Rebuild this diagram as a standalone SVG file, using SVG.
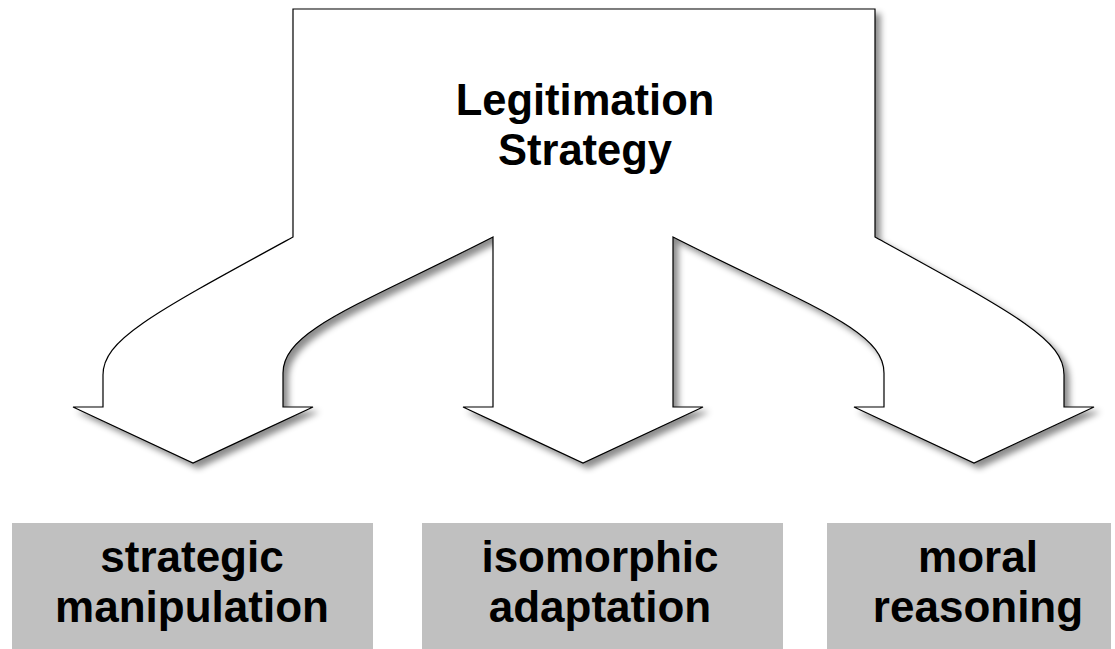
<svg xmlns="http://www.w3.org/2000/svg" width="1115" height="649" viewBox="0 0 1115 649">
  <defs>
    <filter id="shadow" x="-10%" y="-10%" width="130%" height="130%">
      <feDropShadow dx="5" dy="5" stdDeviation="3" flood-color="#000" flood-opacity="0.45"/>
    </filter>
    <style>
      .lbl { font-family: "Liberation Sans", Arial, sans-serif; font-weight: bold; fill: #000; text-anchor: middle; }
      .top { font-size: 43.5px; }
      .bot { font-size: 44px; }
      .box { fill: #C0C0C0; }
      .shape { fill: #fff; stroke: #000; stroke-width: 1.2; stroke-linejoin: miter; }
    </style>
  </defs>
  <rect width="1115" height="649" fill="#fff"/>
  <g id="legitimation-strategy">
    <path class="shape" filter="url(#shadow)" d="M293,9 H875 V237 C1017,315 1064,340 1064,375 V407 H1094 L974,463 L854,407 H884 V373 C884,330 807,305 673,237 V407 H703 L583,463 L463,407 H493 V237 C360,305 283,330 283,373 V407 H313 L193,463 L73,407 H103 V375 C103,340 150,315 293,237 Z"/>
    <text class="lbl top" x="585" y="115">Legitimation</text>
    <text class="lbl top" x="585" y="165">Strategy</text>
  </g>
  <g id="connectors"></g>
  <g id="strategic-manipulation">
    <rect class="box" x="12" y="523" width="361" height="126"/>
    <text class="lbl bot" x="192" y="572">strategic</text>
    <text class="lbl bot" x="192" y="622">manipulation</text>
  </g>
  <g id="isomorphic-adaptation">
    <rect class="box" x="422" y="523" width="361" height="126"/>
    <text class="lbl bot" x="600" y="572">isomorphic</text>
    <text class="lbl bot" x="600" y="622">adaptation</text>
  </g>
  <g id="moral-reasoning">
    <rect class="box" x="827" y="523" width="284" height="126"/>
    <text class="lbl bot" x="978" y="572">moral</text>
    <text class="lbl bot" x="978" y="622">reasoning</text>
  </g>
</svg>
